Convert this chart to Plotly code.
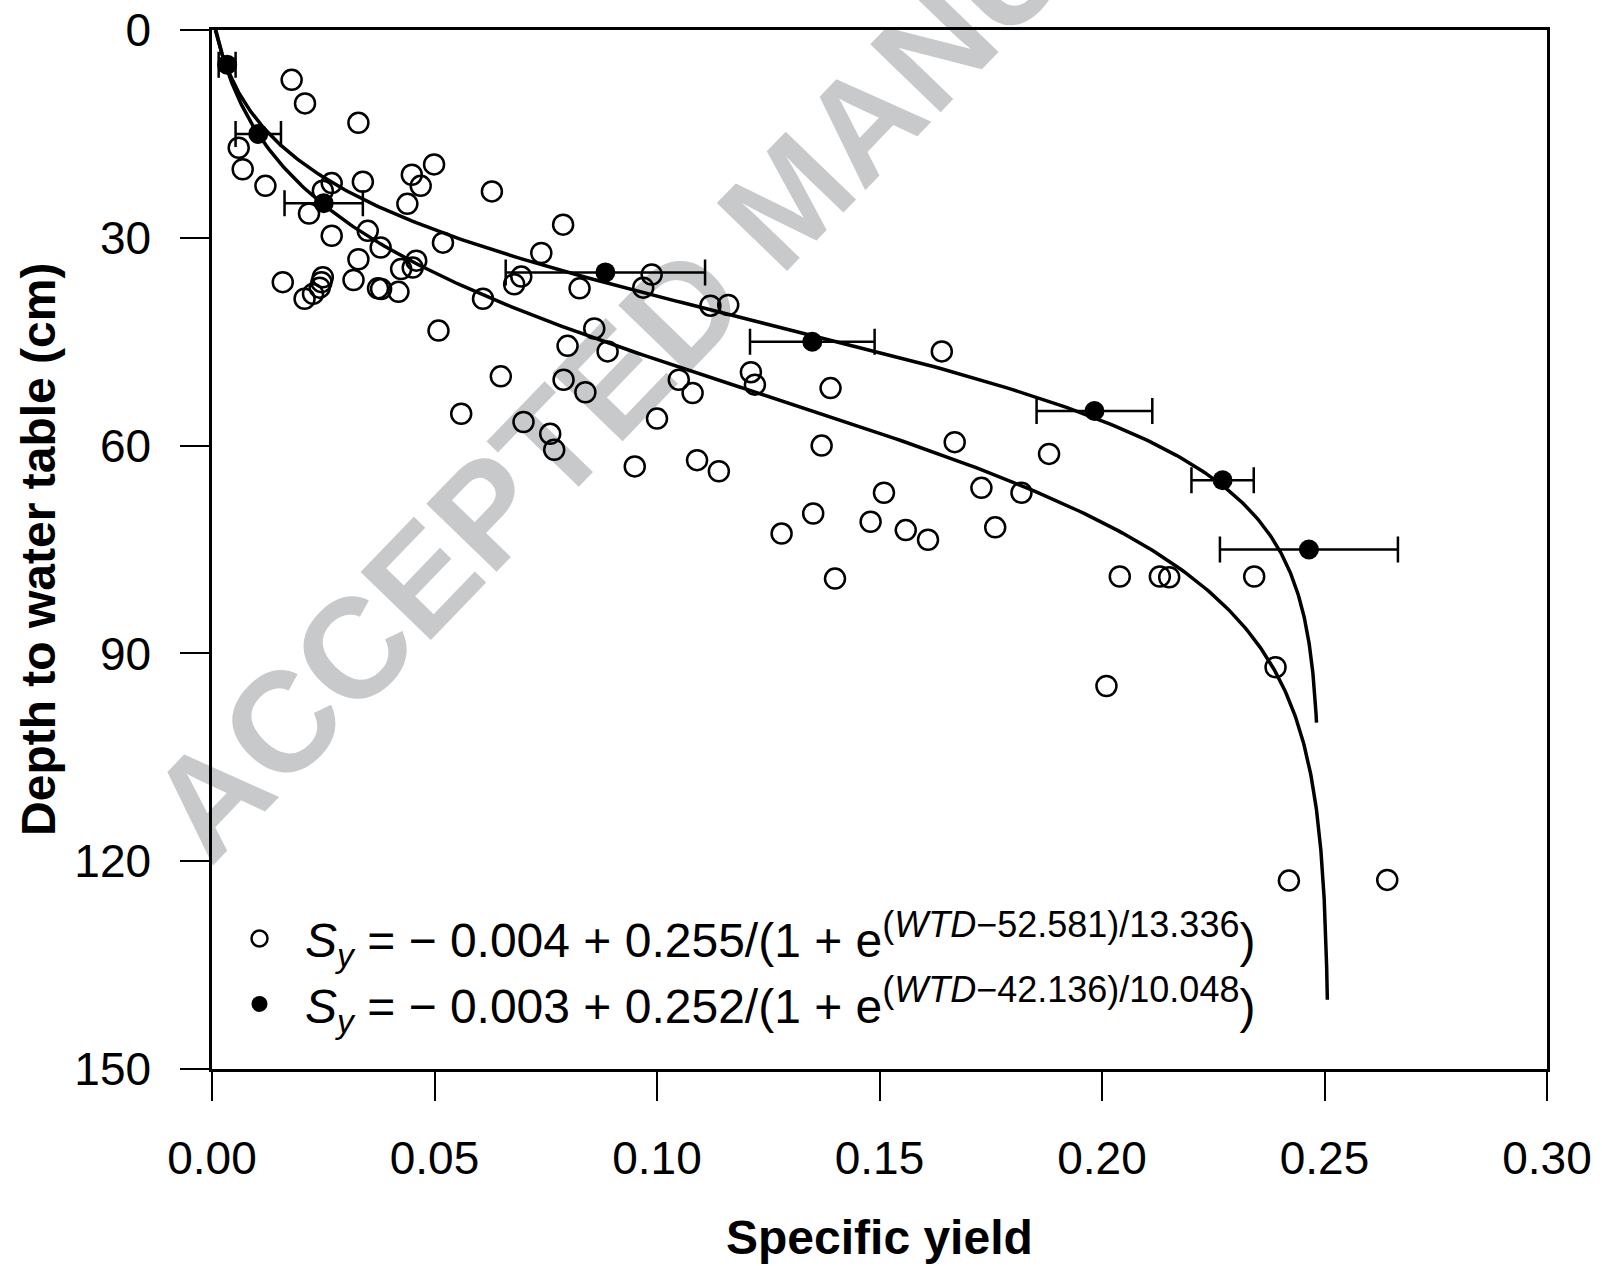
import numpy as np
import plotly.graph_objects as go

# ---------------- data ----------------
# open circles: individual observations (specific yield, depth to water table in cm)
open_sy = [0.0179, 0.0209, 0.0329, 0.0060, 0.0069, 0.0120, 0.0499, 0.0449, 0.0469, 0.0339,
           0.0269, 0.0249, 0.0629, 0.0439, 0.0218, 0.0789, 0.0269, 0.0350, 0.0519, 0.0379,
           0.0740, 0.0329, 0.0459, 0.0425, 0.0451, 0.0159, 0.0249, 0.0246, 0.0242, 0.0227,
           0.0208, 0.0318, 0.0373, 0.0380, 0.0419, 0.0695, 0.0679, 0.0826, 0.0609, 0.0988,
           0.0969, 0.1120, 0.1160, 0.0509, 0.0859, 0.0799, 0.0889, 0.1640, 0.1211, 0.1220,
           0.0649, 0.0790, 0.1049, 0.0839, 0.1080, 0.1390, 0.0560, 0.1000, 0.0700, 0.0760,
           0.0769, 0.1370, 0.1669, 0.1881, 0.0950, 0.1090, 0.1139, 0.1510, 0.1729, 0.1819,
           0.1351, 0.1480, 0.1559, 0.1760, 0.1280, 0.1609, 0.1400, 0.2040, 0.2130, 0.2151,
           0.2342, 0.2390, 0.2010, 0.2420, 0.2641]
open_wtd = [7.2, 10.6, 13.4, 17.0, 20.1, 22.5, 19.4, 20.9, 22.5, 21.9,
            22.1, 23.2, 23.3, 25.1, 26.5, 28.1, 29.7, 29.0, 30.7, 31.4,
            32.2, 33.1, 33.3, 34.5, 34.3, 36.4, 35.7, 36.4, 37.2, 38.1,
            38.8, 36.1, 37.3, 37.4, 37.8, 35.6, 36.7, 37.3, 38.8, 35.3,
            37.2, 39.8, 39.7, 43.4, 43.1, 45.6, 46.4, 46.4, 49.4, 51.2,
            50.0, 50.5, 50.5, 52.3, 52.4, 51.7, 55.4, 56.1, 56.6, 58.3,
            60.6, 60.0, 59.5, 61.2, 63.0, 62.1, 63.7, 66.8, 66.1, 66.8,
            69.8, 71.0, 72.2, 71.8, 72.7, 73.6, 79.2, 78.9, 78.9, 79.0,
            78.9, 92.0, 94.7, 122.8, 122.7]

# filled circles: binned means with error bars
mean_sy = [0.0034, 0.0104, 0.0251, 0.0884, 0.1349, 0.1983, 0.2271, 0.2465]
mean_wtd = [5, 15, 25, 35, 45, 55, 65, 75]
mean_err = [0.0019, 0.0051, 0.0088, 0.0224, 0.0140, 0.0130, 0.0070, 0.0200]

# fitted logistic curves: Sy = a + b / (1 + exp(-(WTD - c) / d))
fit_open = dict(a=-0.004, b=0.255, c=52.581, d=13.336, wtd_max=140)
fit_mean = dict(a=-0.003, b=0.252, c=42.136, d=10.048, wtd_max=100)

x_ticks = [0.00, 0.05, 0.10, 0.15, 0.20, 0.25, 0.30]
y_ticks = [0, 30, 60, 90, 120, 150]

FONT = "Liberation Sans"


def fit_curve(p):
    wtd = np.linspace(0, p["wtd_max"], 400)
    sy = p["a"] + p["b"] / (1 + np.exp(-(wtd - p["c"]) / p["d"]))
    return sy, wtd


fig = go.Figure()

for p in (fit_open, fit_mean):
    sx, sw = fit_curve(p)
    fig.add_trace(go.Scatter(x=sx, y=sw, mode="lines", line=dict(color="black", width=3.5),
                             showlegend=False, hoverinfo="skip"))

SUP = '<span style="font-size:36px">'
leg1 = ("<i>S</i><sub><i>y</i></sub> = \u2212 0.004 + 0.255/(1 + e"
        f"<sup>{SUP}(<i>WTD</i>\u221252.581)/13.336</span></sup>)")
leg2 = ("<i>S</i><sub><i>y</i></sub> = \u2212 0.003 + 0.252/(1 + e"
        f"<sup>{SUP}(<i>WTD</i>\u221242.136)/10.048</span></sup>)")

fig.add_trace(go.Scatter(x=open_sy, y=open_wtd, mode="markers", name=leg1,
                         marker=dict(symbol="circle-open", size=20, color="black",
                                     line=dict(width=2.5, color="black"))))
fig.add_trace(go.Scatter(x=mean_sy, y=mean_wtd, mode="markers", name=leg2,
                         marker=dict(symbol="circle", size=20, color="black"),
                         error_x=dict(type="data", array=mean_err, visible=True,
                                      color="black", thickness=2.5, width=13)))

axis_common = dict(showline=True, linecolor="black", linewidth=2.5, mirror=True,
                   ticks="outside", ticklen=29, tickwidth=2, tickcolor="black",
                   showgrid=False, zeroline=False, automargin=False,
                   tickfont=dict(family=FONT, size=46, color="black"))

fig.update_xaxes(range=[0, 0.30], tickvals=x_ticks,
                 ticktext=[f"{v:.2f}" for v in x_ticks], ticklabelstandoff=18, **axis_common)
fig.update_yaxes(range=[150, 0], tickvals=y_ticks,
                 ticktext=[str(v) for v in y_ticks], ticklabelstandoff=20, **axis_common)

fig.update_layout(
    width=1602, height=1266,
    margin=dict(l=212, r=55, t=30, b=197),
    paper_bgcolor="white", plot_bgcolor="white",
    font=dict(family=FONT, color="black"),
    showlegend=True,
    legend=dict(x=0.0015, y=0.094, xanchor="left", yanchor="middle",
                font=dict(family=FONT, size=48, color="black"),
                bgcolor="rgba(0,0,0,0)", borderwidth=0, itemsizing="trace",
                tracegroupgap=0, itemwidth=81),
    annotations=[
        dict(text="<b>Specific yield</b>", xref="paper", yref="paper", x=0.5, y=-0.162,
             xanchor="center", yanchor="middle", showarrow=False,
             font=dict(family=FONT, size=48, color="black")),
        dict(text="<b>Depth to water table (cm)</b>", xref="paper", yref="paper",
             x=-0.130, y=0.5, xanchor="center", yanchor="middle", textangle=-90,
             showarrow=False, font=dict(family=FONT, size=48, color="black")),
    ],
    shapes=[
        dict(type="rect", xref="paper", yref="paper", x0=0.415, x1=0.435, y0=0.837, y1=0.857,
             line=dict(width=0), fillcolor="rgba(0,0,0,0)", layer="below",
             label=dict(text="ACCEPTED MANUSCRIPT", textangle=-46,
                        textposition="middle center",
                        font=dict(family=FONT, size=142, color="rgb(200,201,203)",
                                  weight="bold"))),
    ],
)

fig.write_html("out.html")
